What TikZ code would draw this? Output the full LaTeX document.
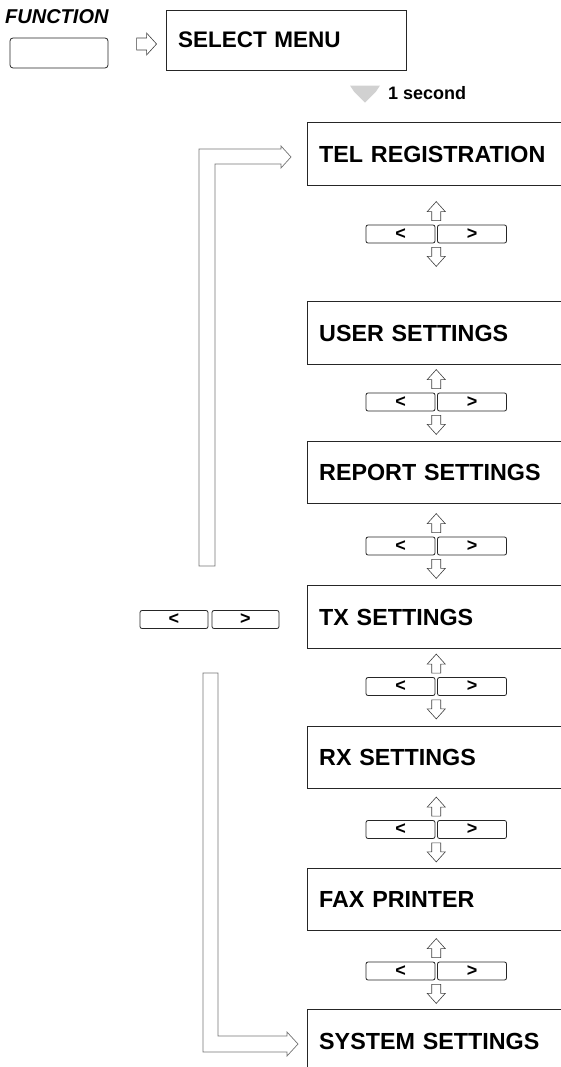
\documentclass[tikz,border=0pt]{standalone}
\usepackage{fontspec}
\setmainfont{Liberation Sans}
\usetikzlibrary{calc}
\begin{document}
\begin{tikzpicture}[x=1pt,y=-1pt,
  boxline/.style={draw=black!85,line width=0.9pt},
  menu/.style={anchor=west,minimum height=62pt,text width=230pt,align=left,
    inner xsep=12pt,inner ysep=0pt,font=\bfseries\fontsize{23.3}{23.3}\selectfont},
  keyb/.style={draw=black!85,line width=0.8pt,rounded corners=2pt,minimum width=69pt,
    minimum height=18pt,inner sep=0pt,font=\bfseries\fontsize{18}{18}\selectfont},
  hol/.style={draw=black!75,line width=0.6pt},
  bracket/.style={draw=black!55,line width=0.7pt},
  uarr/.pic={\draw[hol] (-4.5,0) -- (-4.5,-9) -- (-9,-9) -- (0,-19) -- (9,-9) -- (4.5,-9) -- (4.5,0) -- cycle;},
  darr/.pic={\draw[hol] (-4.5,0) -- (-4.5,9) -- (-9,9) -- (0,19) -- (9,9) -- (4.5,9) -- (4.5,0) -- cycle;},
  rarr/.pic={\draw[hol] (0,-6) -- (10,-6) -- (10,-11) -- (20,0) -- (10,11) -- (10,6) -- (0,6) -- cycle;}
]
\useasboundingbox (0,0) rectangle (561,1067);

% FUNCTION key and SELECT MENU
\node[anchor=base west,inner sep=0pt,font=\bfseries\itshape\fontsize{20}{20}\selectfont] (fn) at (5,24) {FUNCTION};
\node[keyb,minimum width=98pt,minimum height=30pt,rounded corners=3pt] (fkey) at (59,53) {};
\node[boxline,minimum width=240pt,minimum height=60pt,text width=216pt,inner xsep=12pt,align=left,
  font=\bfseries\fontsize{22.5}{22.5}\selectfont] (sel) at (286,40) {SELECT MENU};
\pic at ($(sel.west)+(-29,4)$) {rarr};

% 1 second
\node[anchor=base west,inner sep=0pt,font=\bfseries\fontsize{18}{18}\selectfont] (sec) at (388,100) {1 second};
\fill[black!18] ($(sec.west)+(-38,-8)$) -- ++(30,0) -- ++(-4,6) -- ++(-11,11) -- ++(-11,-11) -- cycle;

% menu boxes
\node[menu] (tel) at (307,154) {TEL REGISTRATION};
\node[menu] (user) at (307,333) {USER SETTINGS};
\node[menu] (rep) at (307,472.5) {REPORT SETTINGS};
\node[menu] (tx) at (307,617) {TX SETTINGS};
\node[menu] (rx) at (307,757.5) {RX SETTINGS};
\node[menu] (fax) at (307,899.5) {FAX PRINTER};
\node[menu] (sys) at (307,1041) {SYSTEM SETTINGS};
\foreach \b in {tel,user,rep,tx,rx,fax}{
  \draw[boxline] (\b.north east) -- (\b.north west) -- (\b.south west) -- (\b.south east);
}
\draw[boxline] (sys.north east) -- (sys.north west) -- ($(sys.north west)+(0,57)$);

% key pairs with up/down arrows
\foreach \n/\y in {1/234,2/402,3/546,4/686.5,5/829.5,6/971}{
  \node[keyb] (kl\n) at (400.5,\y) {<};
  \node[keyb] (kr\n) at (472,\y) {>};
  \pic at ($(kl\n.north east)!0.5!(kr\n.north west)+(0,-4)$) {uarr};
  \pic at ($(kl\n.south east)!0.5!(kr\n.south west)+(0,4)$) {darr};
}

% side keys
\node[keyb,minimum width=68pt] (sl) at (174,619.5) {<};
\node[keyb,minimum width=67pt] (sr) at (245.5,619.5) {>};

% upper bracket arrow to TEL REGISTRATION
\draw[bracket] (199,566) -- (199,149) -- (281,149) -- (281,146) -- ($(tel.west)+(-16,3)$)
  -- (281,168) -- (281,164) -- (215,164) -- (215,566) -- cycle;
% lower bracket arrow to SYSTEM SETTINGS
\draw[bracket] (203,673) -- (203,1052) -- (287,1052) -- (287,1056) -- ($(sys.west)+(-9,3)$)
  -- (287,1032) -- (287,1036) -- (218,1036) -- (218,673) -- cycle;
\end{tikzpicture}
\end{document}
